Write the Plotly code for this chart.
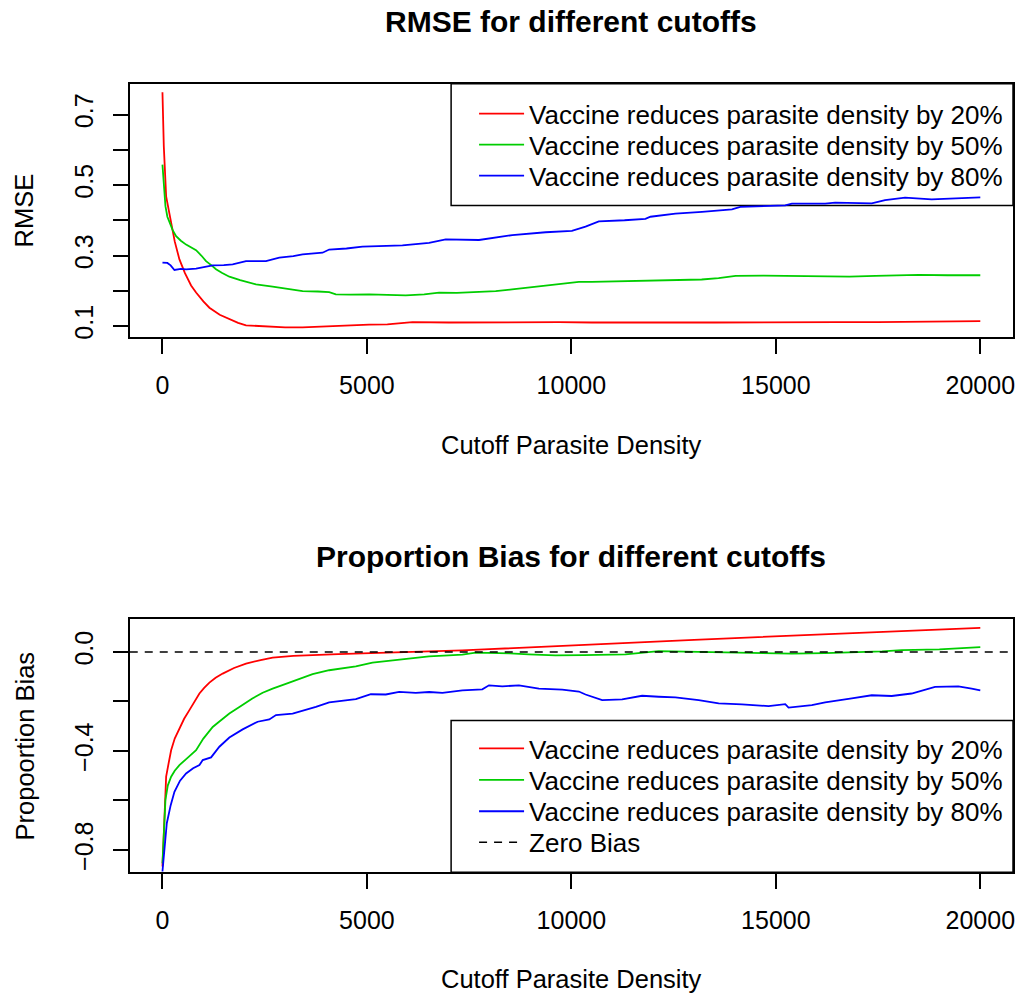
import plotly.graph_objects as go

# ---------------- data ----------------
series_names = ["Vaccine reduces parasite density by 20%",
                "Vaccine reduces parasite density by 50%",
                "Vaccine reduces parasite density by 80%"]
series_colors = ["#FF0000", "#00CD00", "#0000FF"]
zero_name = "Zero Bias"

rmse20_x = [0, 33, 90, 150, 212, 300, 415, 550, 700, 822, 1000, 1148, 1400, 1636, 1850, 2043, 2400, 2694,
            3000, 3426, 4077, 4500, 5054, 5500, 6113, 7000, 8000, 9000, 9695, 10500, 11500, 12500, 13500,
            14500, 15500, 16500, 17500, 18500, 19300, 20000]
rmse20_y = [0.763, 0.61, 0.468, 0.43, 0.393, 0.34, 0.289, 0.25, 0.215, 0.195, 0.17, 0.152, 0.132, 0.119,
            0.109, 0.102, 0.099, 0.097, 0.096, 0.096, 0.100, 0.101, 0.104, 0.105, 0.111, 0.110, 0.111,
            0.110, 0.111, 0.110, 0.109, 0.110, 0.110, 0.111, 0.112, 0.111, 0.111, 0.112, 0.113, 0.114]

rmse50_x = [0, 30, 73, 120, 176, 250, 334, 450, 578, 700, 822, 950, 1066, 1200, 1310, 1450, 1636, 1900,
            2288, 2694, 3000, 3427, 3800, 4077, 4240, 4600, 5055, 5500, 5950, 6400, 6764, 7200, 7741,
            8150, 8550, 9000, 9370, 9695, 10183, 10500, 11000, 11722, 12500, 13187, 13600, 14017, 14700,
            15385, 16200, 16800, 17436, 18000, 18486, 19200, 20000]
rmse50_y = [0.558, 0.50, 0.44, 0.41, 0.393, 0.372, 0.355, 0.342, 0.331, 0.324, 0.315, 0.300, 0.284,
            0.272, 0.261, 0.251, 0.240, 0.230, 0.218, 0.212, 0.207, 0.199, 0.198, 0.196, 0.190, 0.189,
            0.190, 0.189, 0.187, 0.190, 0.195, 0.194, 0.196, 0.199, 0.204, 0.210, 0.215, 0.218, 0.225,
            0.225, 0.226, 0.228, 0.229, 0.232, 0.236, 0.242, 0.243, 0.242, 0.239, 0.240, 0.242, 0.243,
            0.245, 0.244, 0.244]

rmse80_x = [0, 120, 200, 293, 450, 578, 822, 1000, 1229, 1500, 1717, 2043, 2531, 2857, 3200, 3427, 3915,
            4077, 4500, 4891, 5400, 5868, 6520, 6927, 7741, 8148, 8555, 9371, 10012, 10346, 10671, 11300,
            11811, 11933, 12544, 13195, 13927, 14131, 14700, 15230, 15393, 16206, 16450, 17345, 17671,
            18160, 18811, 19300, 20000]
rmse80_y = [0.280, 0.279, 0.272, 0.259, 0.262, 0.261, 0.263, 0.266, 0.272, 0.273, 0.275, 0.284, 0.284,
            0.294, 0.298, 0.303, 0.308, 0.317, 0.320, 0.325, 0.327, 0.329, 0.336, 0.346, 0.344, 0.350,
            0.358, 0.366, 0.370, 0.382, 0.397, 0.400, 0.404, 0.410, 0.419, 0.424, 0.431, 0.438, 0.440,
            0.442, 0.447, 0.447, 0.450, 0.448, 0.457, 0.464, 0.459, 0.462, 0.465]

bias20_x = [0, 20, 49, 90, 150, 212, 300, 415, 530, 659, 780, 904, 1020, 1148, 1300, 1473, 1750, 2043,
            2400, 2694, 3200, 3671, 4300, 4891, 5700, 6520, 7330, 8000, 9000, 10183, 11000, 12000, 13000,
            14000, 15000, 16000, 17000, 18000, 19000, 20000]
bias20_y = [-0.867, -0.78, -0.679, -0.504, -0.45, -0.397, -0.35, -0.309, -0.27, -0.235, -0.20, -0.168,
            -0.145, -0.124, -0.104, -0.0875, -0.065, -0.047, -0.033, -0.023, -0.016, -0.012, -0.009,
            -0.006, -0.003, 0.0, 0.006, 0.011, 0.019, 0.029, 0.035, 0.042, 0.049, 0.056, 0.063, 0.070,
            0.077, 0.083, 0.090, 0.097]

bias50_x = [0, 30, 73, 130, 212, 300, 415, 600, 822, 1000, 1229, 1400, 1636, 1900, 2198, 2450, 2694,
            3000, 3265, 3671, 4077, 4400, 4729, 5136, 5500, 5868, 6200, 6520, 7000, 7334, 7660, 8148,
            8500, 8954, 9606, 10300, 11323, 12137, 12700, 13358, 14300, 15393, 16200, 17021, 17600,
            18079, 19000, 20000]
bias50_y = [-0.854, -0.72, -0.598, -0.54, -0.504, -0.48, -0.457, -0.43, -0.397, -0.35, -0.303, -0.28,
            -0.249, -0.22, -0.188, -0.165, -0.148, -0.13, -0.114, -0.09, -0.074, -0.066, -0.058, -0.043,
            -0.037, -0.030, -0.024, -0.018, -0.014, -0.011, -0.003, -0.003, -0.006, -0.010, -0.014,
            -0.013, -0.010, 0.003, 0.001, -0.002, -0.005, -0.007, -0.005, -0.002, 0.002, 0.007, 0.010,
            0.019]

bias80_x = [0, 40, 106, 200, 293, 430, 578, 750, 904, 985, 1189, 1392, 1636, 1961, 2328, 2613, 2776,
            3183, 3508, 3752, 4077, 4729, 5096, 5462, 5788, 6195, 6520, 6846, 7334, 7822, 7985, 8311,
            8718, 9206, 9776, 10183, 10346, 10753, 11242, 11730, 12137, 12544, 13113, 13602, 14171,
            14578, 14823, 15230, 15311, 15881, 16206, 16857, 17345, 17833, 18321, 18893, 19463, 19789,
            20000]
bias80_y = [-0.887, -0.80, -0.692, -0.62, -0.565, -0.52, -0.491, -0.47, -0.457, -0.437, -0.426, -0.383,
            -0.346, -0.313, -0.282, -0.273, -0.255, -0.249, -0.235, -0.222, -0.204, -0.191, -0.171,
            -0.172, -0.161, -0.165, -0.162, -0.165, -0.155, -0.151, -0.135, -0.139, -0.135, -0.148,
            -0.152, -0.160, -0.172, -0.195, -0.192, -0.177, -0.181, -0.184, -0.195, -0.208, -0.212,
            -0.215, -0.219, -0.211, -0.225, -0.215, -0.204, -0.188, -0.175, -0.178, -0.168, -0.141,
            -0.139, -0.148, -0.155]

x_ticks = [0, 5000, 10000, 15000, 20000]
x_ticklabels = ["0", "5000", "10000", "15000", "20000"]
rmse_ticks = [0.1, 0.2, 0.3, 0.4, 0.5, 0.6, 0.7]
rmse_ticklabels = ["0.1", "", "0.3", "", "0.5", "", "0.7"]
bias_ticks = [-0.8, -0.6, -0.4, -0.2, 0.0]
bias_ticklabels = ["\u22120.8", "", "\u22120.4", "", "0.0"]

# ---------------- layout helpers ----------------
W, H = 1021, 996
FONT = "Liberation Sans, Arial, sans-serif"


def fx(p):
    return p / W


def fy(p):
    return 1 - p / H


fig = go.Figure()

# each legend row gets its own legend so the rows can sit on R's spacing
top_rows = [114, 145, 176]
bot_rows = [750, 781.5, 813, 844]
legend_x = 475
legend_font = dict(family=FONT, size=26, color="black")
legend_layout = {}
for k, yrow in enumerate(top_rows + bot_rows):
    key = "legend" if k == 0 else "legend%d" % (k + 1)
    legend_layout[key] = dict(x=fx(legend_x), xanchor="left", y=fy(yrow), yanchor="middle",
                              bgcolor="rgba(0,0,0,0)", borderwidth=0, itemwidth=45,
                              font=legend_font, tracegroupgap=0)


def legend_ref(k):
    return "legend" if k == 0 else "legend%d" % (k + 1)


top = [(rmse20_x, rmse20_y), (rmse50_x, rmse50_y), (rmse80_x, rmse80_y)]
bot = [(bias20_x, bias20_y), (bias50_x, bias50_y), (bias80_x, bias80_y)]
for i, (xs, ys) in enumerate(top):
    fig.add_trace(go.Scatter(x=xs, y=ys, mode="lines", name=series_names[i],
                             line=dict(color=series_colors[i], width=1.8),
                             xaxis="x", yaxis="y", legend=legend_ref(i)))
for i, (xs, ys) in enumerate(bot):
    fig.add_trace(go.Scatter(x=xs, y=ys, mode="lines", name=series_names[i],
                             line=dict(color=series_colors[i], width=1.8),
                             xaxis="x2", yaxis="y2", legend=legend_ref(3 + i)))

# zero-bias reference line (abline h = 0)
fig.add_shape(type="line", xref="x2 domain", x0=0, x1=1, yref="y2", y0=0, y1=0,
              line=dict(color="black", width=1.5, dash="8px,7px"),
              showlegend=True, name=zero_name, legend=legend_ref(6))

axis_common = dict(showline=True, mirror=True, linecolor="black", linewidth=1.5,
                   ticks="outside", ticklen=15, tickwidth=1.5, tickcolor="black",
                   showgrid=False, zeroline=False, ticklabelstandoff=10,
                   tickfont=dict(family=FONT, size=25, color="black"))

xdom = [fx(130), fx(1015)]
fig.update_layout(
    width=W, height=H,
    margin=dict(l=0, r=0, t=0, b=0),
    paper_bgcolor="white", plot_bgcolor="white",
    font=dict(family=FONT, size=25, color="black"),
    xaxis=dict(domain=xdom, range=[-800, 20800], tickvals=x_ticks, ticktext=x_ticklabels,
               anchor="y", **axis_common),
    yaxis=dict(domain=[fy(338), fy(84)], range=[0.068, 0.787], tickvals=rmse_ticks,
               ticktext=rmse_ticklabels, tickangle=-90, anchor="x", **axis_common),
    xaxis2=dict(domain=xdom, range=[-800, 20800], tickvals=x_ticks, ticktext=x_ticklabels,
                anchor="y2", **axis_common),
    yaxis2=dict(domain=[fy(874), fy(620)], range=[-0.89, 0.134], tickvals=bias_ticks,
                ticktext=bias_ticklabels, tickangle=-90, anchor="x2", **axis_common),
    showlegend=True,
    **legend_layout,
)

# legend boxes
fig.add_shape(type="rect", xref="paper", yref="paper", x0=fx(452), x1=fx(1015), y0=fy(206), y1=fy(84),
              line=dict(color="black", width=1.5), fillcolor="white", layer="below")
fig.add_shape(type="rect", xref="paper", yref="paper", x0=fx(452), x1=fx(1015), y0=fy(874), y1=fy(722),
              line=dict(color="black", width=1.5), fillcolor="white", layer="below")

# titles and axis labels
ann = [
    dict(text="<b>RMSE for different cutoffs</b>", x=fx(572.5), y=fy(22), size=30, angle=0),
    dict(text="<b>Proportion Bias for different cutoffs</b>", x=fx(572.5), y=fy(558), size=30, angle=0),
    dict(text="Cutoff Parasite Density", x=fx(572.5), y=fy(446), size=25.5, angle=0),
    dict(text="Cutoff Parasite Density", x=fx(572.5), y=fy(981), size=25.5, angle=0),
    dict(text="RMSE", x=fx(24), y=fy(211), size=25.5, angle=-90),
    dict(text="Propoortion Bias", x=fx(25), y=fy(747), size=25.5, angle=-90),
]
for a in ann:
    fig.add_annotation(text=a["text"], x=a["x"], y=a["y"], xref="paper", yref="paper",
                       xanchor="center", yanchor="middle", showarrow=False, textangle=a["angle"],
                       font=dict(family=FONT, size=a["size"], color="black"))

fig.write_html("out.html")
